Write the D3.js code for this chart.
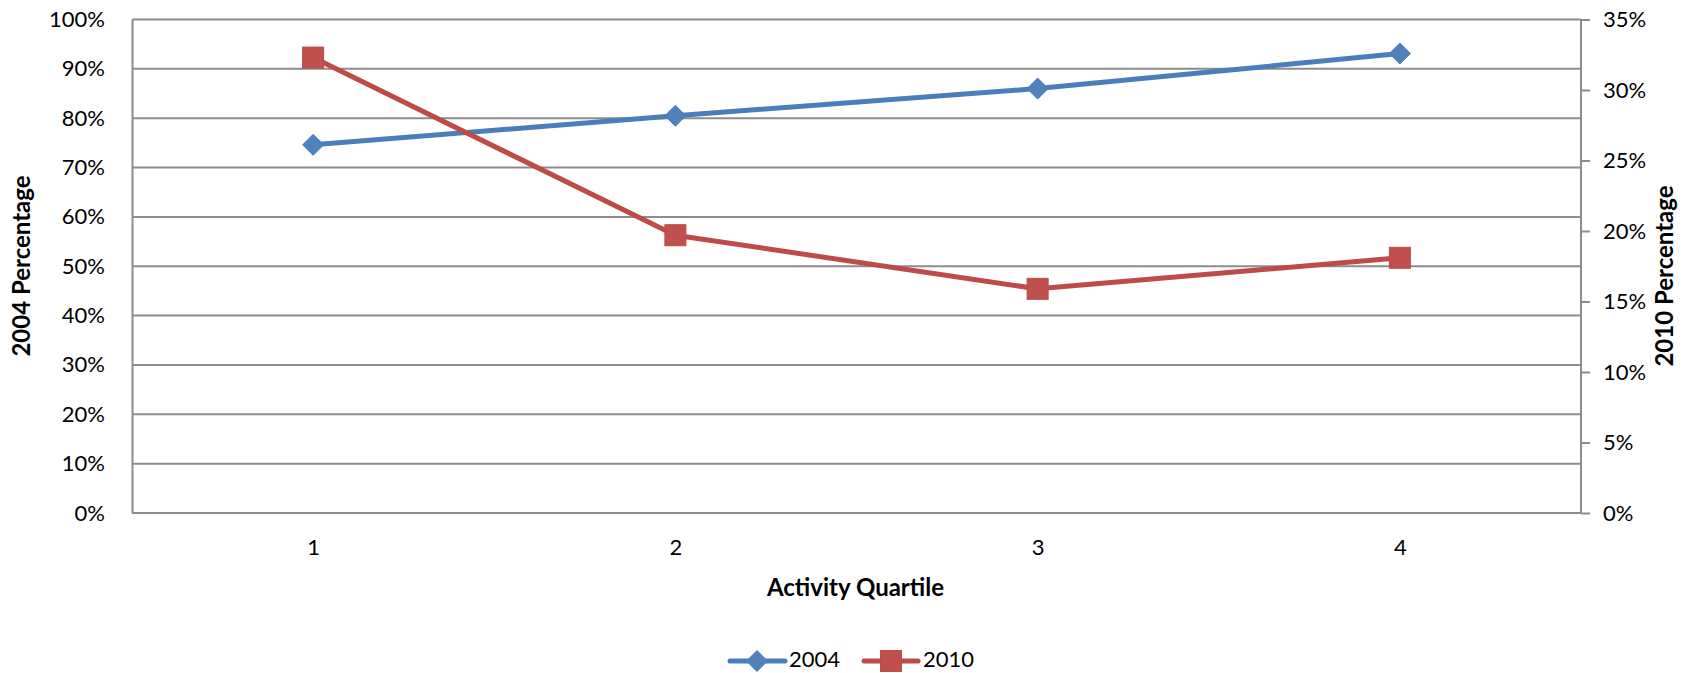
<!DOCTYPE html>
<html>
<head>
<meta charset="utf-8">
<script src="https://cdn.jsdelivr.net/npm/d3@7"></script>
<style>
  html, body { margin: 0; padding: 0; background: #fff; }
  svg { display: block; }
  text { font-family: Lato, "Open Sans", sans-serif; fill: #000; }
</style>
</head>
<body>
<svg id="chart" width="1690" height="673"></svg>
<script>
const categories = ["1", "2", "3", "4"];
const series2004 = [0.746, 0.805, 0.860, 0.931];
const series2010 = [0.323, 0.197, 0.159, 0.181];
const leftTicks = [0, 0.1, 0.2, 0.3, 0.4, 0.5, 0.6, 0.7, 0.8, 0.9, 1.0];
const rightTicks = [0, 0.05, 0.10, 0.15, 0.20, 0.25, 0.30, 0.35];
const seriesNames = ["2004", "2010"];
const xTitle = "Activity Quartile";
const yLeftTitle = "2004 Percentage";
const yRightTitle = "2010 Percentage";

const svg = d3.select("#chart");
const W = 1690, H = 673;
const plot = { left: 132, right: 1581, top: 19.5, bottom: 513 };

const blue = "#4A7EBB", blueMarker = "#4F81BD";
const red = "#BE4B48", redMarker = "#C0504D";
const gridColor = "#8C8C8C";

svg.append("rect").attr("width", W).attr("height", H).attr("fill", "#fff");

const x = d3.scalePoint().domain(categories).range([plot.left, plot.right]).padding(0.5);
const yL = d3.scaleLinear().domain([0, 1]).range([plot.bottom, plot.top]);
const yR = d3.scaleLinear().domain([0, 0.35]).range([plot.bottom, plot.top]);

// gridlines
svg.append("g").selectAll("line").data(leftTicks.slice(1)).join("line")
  .attr("x1", plot.left).attr("x2", plot.right)
  .attr("y1", d => yL(d)).attr("y2", d => yL(d))
  .attr("stroke", gridColor).attr("stroke-width", 2);

// left axis
const gL = svg.append("g").attr("transform", `translate(${plot.left},0)`)
  .call(d3.axisLeft(yL).tickValues(leftTicks).tickSize(0).tickPadding(27).tickFormat(d3.format(".0%")));
gL.select(".domain").attr("stroke", gridColor).attr("stroke-width", 2);
gL.selectAll("text").style("font-size", "22px").attr("fill", "#000");

// right axis
const gR = svg.append("g").attr("transform", `translate(${plot.right},0)`)
  .call(d3.axisRight(yR).tickValues(rightTicks).tickSize(9).tickPadding(13).tickFormat(d3.format(".0%")));
gR.select(".domain").attr("stroke", gridColor).attr("stroke-width", 2).attr("d", `M0,${plot.top}V${plot.bottom}`);
gR.selectAll(".tick line").attr("stroke", gridColor).attr("stroke-width", 2);
gR.selectAll("text").style("font-size", "22px").attr("fill", "#000");

// bottom axis
const gB = svg.append("g").attr("transform", `translate(0,${plot.bottom})`)
  .call(d3.axisBottom(x).tickSize(0).tickPadding(26));
gB.select(".domain").attr("stroke", gridColor).attr("stroke-width", 2).attr("d", `M${plot.left},0H${plot.right}`);
gB.selectAll("text").style("font-size", "22px").attr("fill", "#000");

// axis titles
svg.append("text").attr("x", (plot.left + plot.right) / 2 - 1).attr("y", 590)
  .attr("text-anchor", "middle").attr("dominant-baseline", "middle")
  .style("font-size", "24px").style("font-weight", "bold").text(xTitle);
svg.append("text").attr("transform", `translate(24,266) rotate(-90)`)
  .attr("text-anchor", "middle").attr("dominant-baseline", "middle")
  .style("font-size", "24px").style("font-weight", "bold").text(yLeftTitle);
svg.append("text").attr("transform", `translate(1667,276) rotate(-90)`)
  .attr("text-anchor", "middle").attr("dominant-baseline", "middle")
  .style("font-size", "24px").style("font-weight", "bold").text(yRightTitle);

// lines
const line2004 = d3.line().x((d, i) => x(categories[i])).y(d => yL(d));
const line2010 = d3.line().x((d, i) => x(categories[i])).y(d => yR(d));

svg.append("path").datum(series2004).attr("d", line2004)
  .attr("fill", "none").attr("stroke", blue).attr("stroke-width", 5).attr("stroke-linejoin", "round");
svg.append("path").datum(series2010).attr("d", line2010)
  .attr("fill", "none").attr("stroke", red).attr("stroke-width", 5).attr("stroke-linejoin", "round");

const diamond = (cx, cy, r) => `M${cx},${cy - r}L${cx + r},${cy}L${cx},${cy + r}L${cx - r},${cy}Z`;
const sq = 21;

svg.append("g").selectAll("path").data(series2004).join("path")
  .attr("d", (d, i) => diamond(x(categories[i]), yL(d), 10.5))
  .attr("fill", blueMarker).attr("stroke", blue).attr("stroke-width", 1);
svg.append("g").selectAll("rect").data(series2010).join("rect")
  .attr("x", (d, i) => x(categories[i]) - sq / 2).attr("y", d => yR(d) - sq / 2)
  .attr("width", sq).attr("height", sq)
  .attr("fill", redMarker).attr("stroke", red).attr("stroke-width", 1);

// legend
const ly = 661;
const lg = svg.append("g");
lg.append("line").attr("x1", 730).attr("x2", 785).attr("y1", ly).attr("y2", ly)
  .attr("stroke", blue).attr("stroke-width", 5).attr("stroke-linecap", "round");
lg.append("path").attr("d", diamond(757, ly, 10.5)).attr("fill", blueMarker).attr("stroke", blue);
lg.append("text").attr("x", 789).attr("y", ly).attr("dominant-baseline", "middle")
  .style("font-size", "22px").text(seriesNames[0]);
lg.append("line").attr("x1", 864).attr("x2", 918).attr("y1", ly).attr("y2", ly)
  .attr("stroke", red).attr("stroke-width", 5).attr("stroke-linecap", "round");
lg.append("rect").attr("x", 891 - sq / 2).attr("y", ly - sq / 2).attr("width", sq).attr("height", sq)
  .attr("fill", redMarker).attr("stroke", red);
lg.append("text").attr("x", 923).attr("y", ly).attr("dominant-baseline", "middle")
  .style("font-size", "22px").text(seriesNames[1]);
</script>
</body>
</html>
